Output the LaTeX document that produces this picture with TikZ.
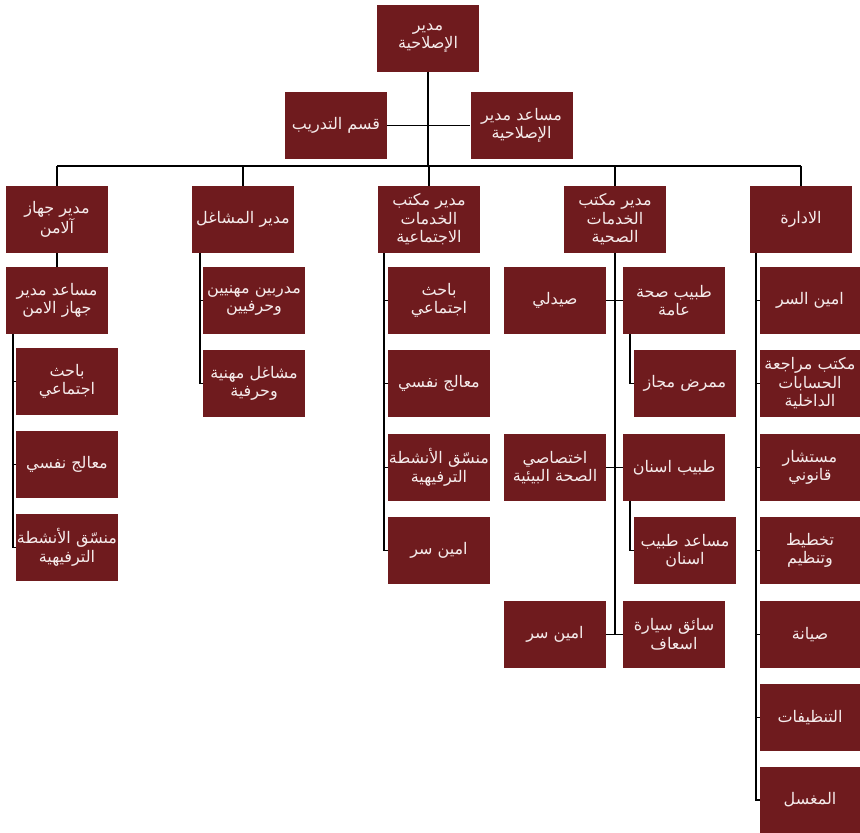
\documentclass[tikz,border=0pt]{standalone}
\usepackage{fontspec}
\newfontfamily\arabicfont[Script=Arabic]{DejaVu Sans}
\TeXXeTstate=1
\newcommand{\ar}[1]{\beginR #1\endR}
\definecolor{boxred}{RGB}{111,27,30}
\definecolor{boxtext}{RGB}{245,235,235}
\begin{document}
\begin{tikzpicture}[x=1pt,y=-1pt,
  box/.style={fill=boxred,text=boxtext,minimum width=102pt,minimum height=67pt,inner sep=0pt,align=center,font=\arabicfont\fontsize{16}{18.5}\selectfont},
  wbox/.style={box,minimum width=100pt},
  conn/.style={draw=black,line width=1.9pt}]
\useasboundingbox (0,0) rectangle (860,833);
% level 0/1
\node[box] (top) at (428,38) {\ar{مدير}\\\ar{الإصلاحية}};
\node[box] (train) at (336,125.5) {\ar{قسم التدريب}};
\node[box] (asst) at (521.5,125.5) {\ar{مساعد مدير}\\\ar{الإصلاحية}};
% level 2
\node[box] (c1) at (57,219.5) {\ar{مدير جهاز}\\\ar{آلامن}};
\node[box] (c2) at (243,219.5) {\ar{مدير المشاغل}};
\node[box] (c3) at (429,219.5) {\ar{مدير مكتب}\\\ar{الخدمات}\\\ar{الاجتماعية}};
\node[box] (c4) at (615,219.5) {\ar{مدير مكتب}\\\ar{الخدمات}\\\ar{الصحية}};
\node[box] (c5) at (801,219.5) {\ar{الادارة}};
% column 1
\node[box] (c1a) at (57,300.5) {\ar{مساعد مدير}\\\ar{جهاز الامن}};
\node[box] (c1k1) at (67,381.5) {\ar{باحث}\\\ar{اجتماعي}};
\node[box] (c1k2) at (67,464.5) {\ar{معالج نفسي}};
\node[box] (c1k3) at (67,547.5) {\ar{منسّق الأنشطة}\\\ar{الترفيهية}};
% column 2
\node[box] (c2k1) at (254,300.5) {\ar{مدربين مهنيين}\\\ar{وحرفيين}};
\node[box] (c2k2) at (254,383.5) {\ar{مشاغل مهنية}\\\ar{وحرفية}};
% column 3
\node[box] (c3k1) at (439,300.5) {\ar{باحث}\\\ar{اجتماعي}};
\node[box] (c3k2) at (439,383.5) {\ar{معالج نفسي}};
\node[box] (c3k3) at (439,467.5) {\ar{منسّق الأنشطة}\\\ar{الترفيهية}};
\node[box] (c3k4) at (439,550.5) {\ar{امين سر}};
% column 4
\node[box] (gp) at (674,300.5) {\ar{طبيب صحة}\\\ar{عامة}};
\node[box] (ph) at (555,300.5) {\ar{صيدلي}};
\node[box] (nu) at (685,383.5) {\ar{ممرض مجاز}};
\node[box] (de) at (674,467.5) {\ar{طبيب اسنان}};
\node[box] (en) at (555,467.5) {\ar{اختصاصي}\\\ar{الصحة البيئية}};
\node[box] (da) at (685,550.5) {\ar{مساعد طبيب}\\\ar{اسنان}};
\node[box] (am) at (674,634.5) {\ar{سائق سيارة}\\\ar{اسعاف}};
\node[box] (se) at (555,634.5) {\ar{امين سر}};
% column 5
\node[wbox] (c5k1) at (810,300.5) {\ar{امين السر}};
\node[wbox] (c5k2) at (810,383.5) {\ar{مكتب مراجعة}\\\ar{الحسابات}\\\ar{الداخلية}};
\node[wbox] (c5k3) at (810,467.5) {\ar{مستشار}\\\ar{قانوني}};
\node[wbox] (c5k4) at (810,550.5) {\ar{تخطيط}\\\ar{وتنظيم}};
\node[wbox] (c5k5) at (810,634.5) {\ar{صيانة}};
\node[wbox] (c5k6) at (810,717.5) {\ar{التنظيفات}};
\node[wbox] (c5k7) at (810,800) {\ar{المغسل}};
% connectors
\coordinate (busL) at (57,166);
\coordinate (busR) at (801,166);
\coordinate (busM) at (428,166);
\draw[conn] (top.south) -- (busM);
\draw[conn] (busL) -- (busR);
\draw[conn] (train.east) -- (asst.west);
\foreach \c in {c1,c2,c3,c4,c5} \draw[conn] (\c.north) -- (\c.north |- busM);
\draw[conn] (c1.south) -- (c1a.north);
\foreach \k in {c1k1,c1k2,c1k3} \draw[conn] ([xshift=7pt]c1a.south west) |- (\k.west);
\foreach \k in {c2k1,c2k2} \draw[conn] ([xshift=8pt]c2.south west) |- (\k.west);
\foreach \k in {c3k1,c3k2,c3k3,c3k4} \draw[conn] ([xshift=6pt]c3.south west) |- (\k.west);
\draw[conn] (c4.south) -- (c4.south |- se.east);
\draw[conn] (ph.east) -- (gp.west);
\draw[conn] (en.east) -- (de.west);
\draw[conn] (se.east) -- (am.west);
\draw[conn] ([xshift=7pt]gp.south west) |- (nu.west);
\draw[conn] ([xshift=7pt]de.south west) |- (da.west);
\foreach \k in {c5k1,c5k2,c5k3,c5k4,c5k5,c5k6,c5k7} \draw[conn] ([xshift=6pt]c5.south west) |- (\k.west);
\end{tikzpicture}
\end{document}
